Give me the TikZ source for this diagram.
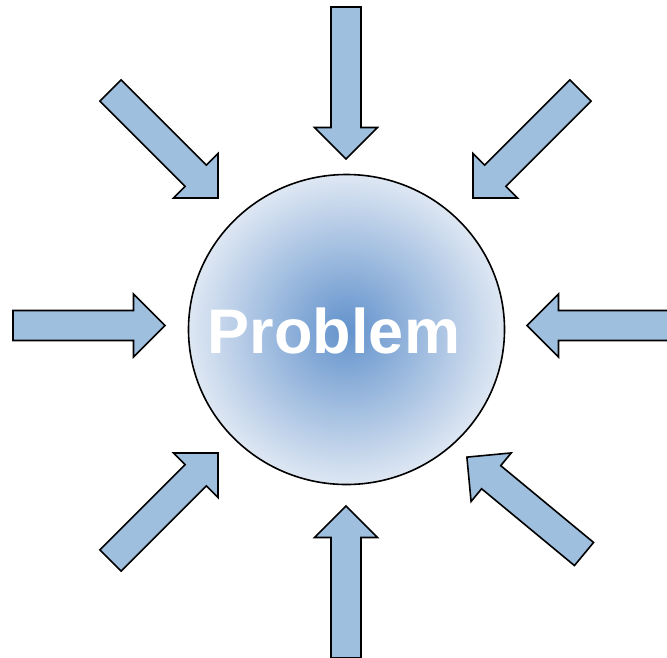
\documentclass[tikz,border=0pt]{standalone}
\usepackage{fontspec}
\setmainfont{Liberation Sans}
\definecolor{arrowblue}{RGB}{159,191,222}
\definecolor{ballin}{RGB}{98,146,204}
\definecolor{ballout}{RGB}{222,231,243}
\tikzset{
  arrowstyle/.style={fill=arrowblue, draw=black, line width=1.6pt, line join=miter},
  pics/bluearrow/.style={code={
    \draw[arrowstyle] (0,-15) -- (120.5,-15) -- (120.5,-31.5) -- (152,0) -- (120.5,31.5) -- (120.5,15) -- (0,15) -- cycle;
  }},
  ball/.style={ellipse, minimum width=316pt, minimum height=310pt, draw=black, line width=1.6pt, inner color=ballin, outer color=ballout},
  probtext/.style={text=white, font=\bfseries\fontsize{63}{63}\selectfont, inner sep=0pt}
}
\usetikzlibrary{shapes.geometric}
\begin{document}
\begin{tikzpicture}[x=1pt,y=-1pt]
\clip (0,0) rectangle (667,657);
\useasboundingbox (0,0) rectangle (667,657);
\node[ball] (problem) at (346.5,329.5) {};
\node[probtext] (label) at (334,331) {Problem};
% straight arrows
\pic[shift={(346,7)}, rotate=-90] {bluearrow};
\pic[shift={(346,658)}, rotate=90] {bluearrow};
\pic[shift={(13,325.5)}, rotate=0] {bluearrow};
\pic[shift={(679,325.5)}, rotate=180] {bluearrow};
% diagonal arrows
\pic[shift={(110.5,90.5)}, rotate=-45] {bluearrow};
\pic[shift={(580.5,90.5)}, rotate=-135] {bluearrow};
\pic[shift={(110.5,560.5)}, rotate=45] {bluearrow};
\pic[shift={(584,554)}, rotate=140.4] {bluearrow};
\end{tikzpicture}
\end{document}
